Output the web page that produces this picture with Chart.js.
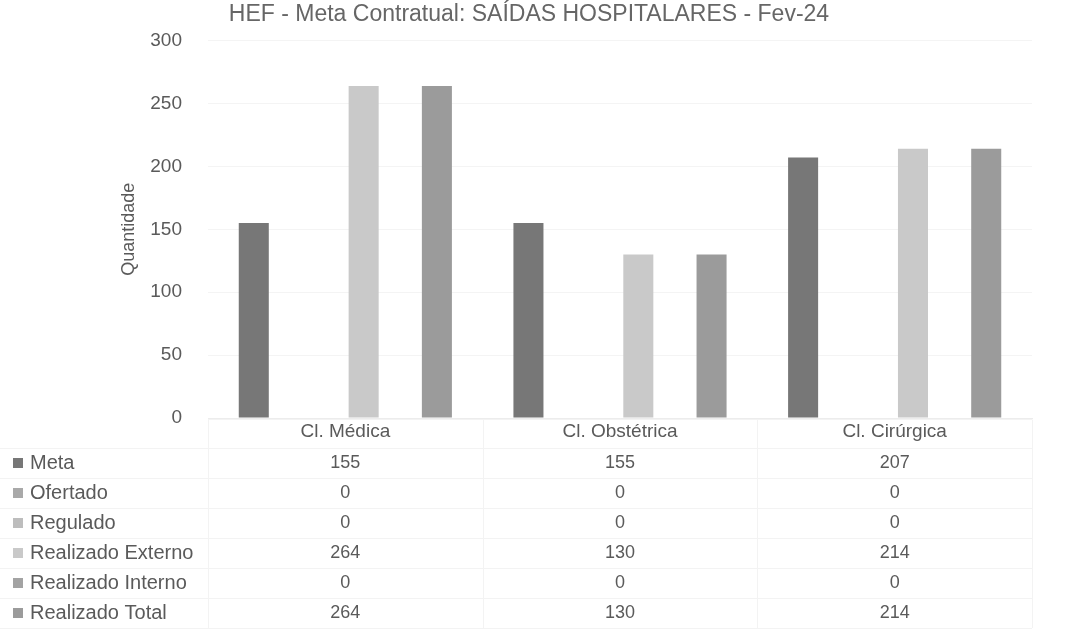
<!DOCTYPE html>
<html>
<head>
<meta charset="utf-8">
<script src="https://cdn.jsdelivr.net/npm/chart.js@4"></script>
<style>
  html, body { margin: 0; padding: 0; background: #fff; }
  #wrap { width: 1085px; height: 634px; }
</style>
</head>
<body>
<div id="wrap"><canvas id="grafico" width="1085" height="634"></canvas></div>
<script>
const categorias = ["Cl. Médica", "Cl. Obstétrica", "Cl. Cirúrgica"];
const meta = [155, 155, 207];
const ofertado = [0, 0, 0];
const regulado = [0, 0, 0];
const realizadoExterno = [264, 130, 214];
const realizadoInterno = [0, 0, 0];
const realizadoTotal = [264, 130, 214];
const yTicks = [0, 50, 100, 150, 200, 250, 300];

const series = [
  { label: "Meta", data: meta, cor: "#777777" },
  { label: "Ofertado", data: ofertado, cor: "#a9a9a9" },
  { label: "Regulado", data: regulado, cor: "#bdbdbd" },
  { label: "Realizado Externo", data: realizadoExterno, cor: "#c9c9c9" },
  { label: "Realizado Interno", data: realizadoInterno, cor: "#a3a3a3" },
  { label: "Realizado Total", data: realizadoTotal, cor: "#9b9b9b" },
];

const FONTE = "'Liberation Sans', Arial, sans-serif";
const CINZA = "#5a5a5a";

// tabela de dados no estilo Excel, desenhada abaixo do gráfico
const tabelaDados = {
  id: "tabelaDados",
  afterDraw(chart) {
    const { ctx, chartArea } = chart;
    const x = chart.scales.x;
    const larg = (chartArea.right - chartArea.left) / categorias.length;
    const yCab = 432;
    const yLin0 = 463;
    const passo = 30;

    ctx.save();
    ctx.strokeStyle = "#f3f3f3";
    ctx.lineWidth = 1;
    // linhas horizontais
    ctx.beginPath();
    ctx.moveTo(chartArea.left, 419.5);
    ctx.lineTo(chartArea.right, 419.5);
    for (let i = 0; i <= series.length; i++) {
      const y = Math.round(yLin0 - passo / 2 + i * passo) + 0.5;
      ctx.moveTo(0, y);
      ctx.lineTo(chartArea.right, y);
    }
    // linhas verticais
    for (let c = 0; c <= categorias.length; c++) {
      const xx = Math.round(chartArea.left + c * larg) + 0.5;
      ctx.moveTo(xx, 419.5);
      ctx.lineTo(xx, yLin0 - passo / 2 + series.length * passo);
    }
    ctx.stroke();

    ctx.fillStyle = CINZA;
    ctx.textBaseline = "middle";
    ctx.textAlign = "center";
    ctx.font = "19px " + FONTE;
    categorias.forEach((cat, i) => {
      ctx.fillText(cat, x.getPixelForValue(i), yCab);
    });

    series.forEach((s, r) => {
      const y = yLin0 + r * passo;
      ctx.fillStyle = s.cor;
      ctx.fillRect(13, y - 5, 10, 10);
      ctx.fillStyle = CINZA;
      ctx.textAlign = "left";
      ctx.font = "20px " + FONTE;
      ctx.fillText(s.label, 30, y);
      ctx.textAlign = "center";
      ctx.font = "18px " + FONTE;
      s.data.forEach((v, i) => {
        ctx.fillText(String(v), x.getPixelForValue(i), y);
      });
    });
    ctx.restore();
  },
};

new Chart(document.getElementById("grafico").getContext("2d"), {
  type: "bar",
  data: {
    labels: categorias,
    datasets: series.map((s) => ({
      label: s.label,
      data: s.data,
      backgroundColor: s.cor,
      borderWidth: 0,
      categoryPercentage: 0.8,
      barPercentage: 0.82,
    })),
  },
  options: {
    responsive: false,
    animation: false,
    layout: { padding: { left: 26, right: 53, top: 0, bottom: 208 } },
    plugins: {
      legend: { display: false },
      tooltip: { enabled: false },
      title: {
        display: true,
        text: "HEF - Meta Contratual: SAÍDAS HOSPITALARES - Fev-24",
        color: "#666666",
        font: { family: FONTE, size: 23, weight: "normal" },
        padding: { top: 1, bottom: 12 },
      },
    },
    scales: {
      x: {
        ticks: { display: false },
        grid: { display: false },
        border: { color: "#ececec" },
      },
      y: {
        min: 0,
        max: 300,
        afterFit(scale) { scale.width = 182; },
        afterBuildTicks(scale) { scale.ticks = yTicks.map((v) => ({ value: v })); },
        ticks: {
          color: CINZA,
          padding: 26,
          font: { family: FONTE, size: 19 },
        },
        grid: { color: "#f4f4f4", drawTicks: false },
        border: { display: false },
        title: {
          display: true,
          text: "Quantidade",
          color: CINZA,
          font: { family: FONTE, size: 18 },
          padding: { top: 92 },
        },
      },
    },
  },
  plugins: [tabelaDados],
});
</script>
</body>
</html>
